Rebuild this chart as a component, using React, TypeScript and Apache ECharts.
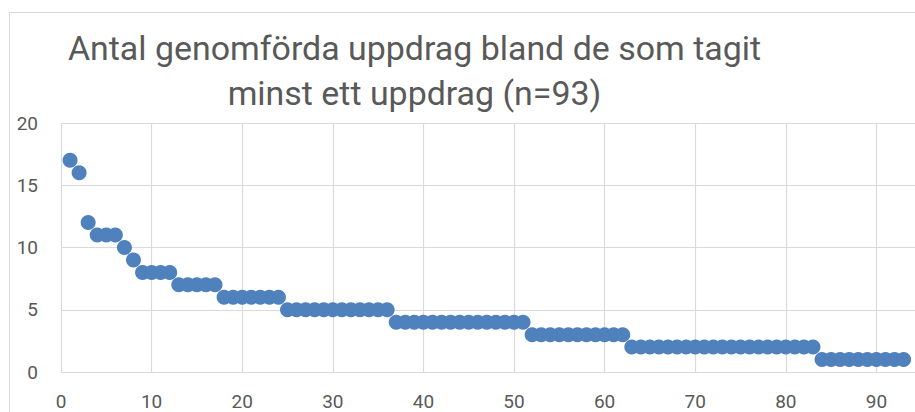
import React, { useEffect, useRef } from "react";
import * as echarts from "echarts";

const titleLines = [
  "Antal genomförda uppdrag bland de som tagit",
  "minst ett uppdrag (n=93)",
];

// Number of completed assignments per person, sorted descending (rank 1..93)
const yValues = [
  17, 16, 12, 11, 11, 11, 10, 9, 8, 8,
  8, 8, 7, 7, 7, 7, 7, 6, 6, 6,
  6, 6, 6, 6, 5, 5, 5, 5, 5, 5,
  5, 5, 5, 5, 5, 5, 4, 4, 4, 4,
  4, 4, 4, 4, 4, 4, 4, 4, 4, 4,
  4, 3, 3, 3, 3, 3, 3, 3, 3, 3,
  3, 3, 2, 2, 2, 2, 2, 2, 2, 2,
  2, 2, 2, 2, 2, 2, 2, 2, 2, 2,
  2, 2, 2, 1, 1, 1, 1, 1, 1, 1,
  1, 1, 1,
];

const xTicks = { min: 0, max: 100, interval: 10 };
const yTicks = { min: 0, max: 20, interval: 5 };

const FONT = "Roboto";
const GREY = "#595959";
const GRID = "#d9d9d9";
const BLUE = "#4f81bd";

function fitSize(text: string, width: number): number {
  const c = document.createElement("canvas");
  const ctx = c.getContext("2d");
  if (!ctx) return 32;
  ctx.font = `100px ${FONT}`;
  const w = ctx.measureText(text).width;
  return (100 * width) / w;
}

export default function App() {
  const ref = useRef<HTMLDivElement>(null);
  useEffect(() => {
    if (!ref.current) return;
    const chart = echarts.init(ref.current, undefined, { renderer: "svg" });
    const fs1 = fitSize(titleLines[0], 695);
    const fs2 = fitSize(titleLines[1], 373);
    const fs = (fs1 + fs2) / 2;
    const data = yValues.map((v, i) => [i + 1, v]);
    chart.setOption({
      animation: false,
      backgroundColor: "#ffffff",
      textStyle: { fontFamily: FONT },
      graphic: [
        {
          type: "rect",
          shape: { x: 9.5, y: 12.5, width: 1000, height: 500 },
          style: { fill: "none", stroke: GRID, lineWidth: 1 },
          silent: true,
        },
        {
          type: "text",
          x: 414.5,
          y: 60 - 0.35 * fs,
          style: {
            text: titleLines[0],
            fontFamily: FONT,
            fontSize: fs,
            fill: GREY,
            textAlign: "center",
            textVerticalAlign: "middle",
          },
        },
        {
          type: "text",
          x: 414.5,
          y: 105.5 - 0.35 * fs,
          style: {
            text: titleLines[1],
            fontFamily: FONT,
            fontSize: fs,
            fill: GREY,
            textAlign: "center",
            textVerticalAlign: "middle",
          },
        },
      ],
      grid: {
        left: 61,
        top: 123,
        width: 906,
        height: 249,
        containLabel: false,
        outerBoundsMode: "none",
      },
      xAxis: {
        type: "value",
        min: xTicks.min,
        max: xTicks.max,
        interval: xTicks.interval,
        axisLine: { show: false },
        axisTick: { show: false },
        splitLine: { show: true, lineStyle: { color: GRID, width: 1.2 } },
        axisLabel: {
          color: GREY,
          fontSize: 19,
          lineHeight: 19,
          margin: 20,
          fontFamily: FONT,
          showMaxLabel: false,
        },
      },
      yAxis: {
        type: "value",
        min: yTicks.min,
        max: yTicks.max,
        interval: yTicks.interval,
        axisLine: { show: false },
        axisTick: { show: false },
        splitLine: { show: true, lineStyle: { color: GRID, width: 1.2 } },
        axisLabel: {
          color: GREY,
          fontSize: 19,
          lineHeight: 19,
          margin: 23,
          fontFamily: FONT,
        },
      },
      series: [
        {
          type: "scatter",
          data,
          symbol: "circle",
          symbolSize: 15,
          itemStyle: { color: BLUE, opacity: 1 },
        },
      ],
    });
    return () => chart.dispose();
  }, []);
  return (
    <div
      ref={ref}
      style={{ position: "fixed", left: 0, top: 0, width: 915, height: 412 }}
    />
  );
}
